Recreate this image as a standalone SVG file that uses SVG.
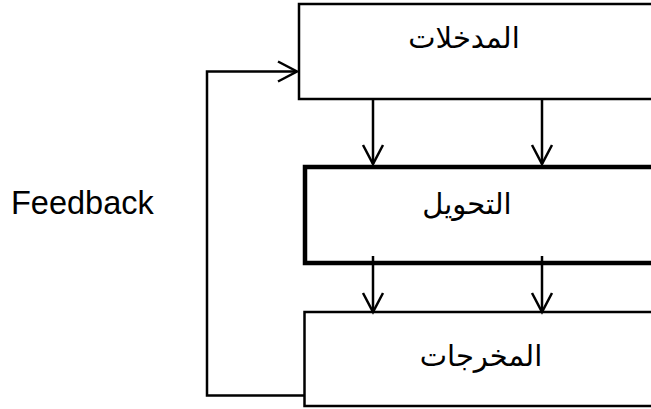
<svg xmlns="http://www.w3.org/2000/svg" width="651" height="409" viewBox="0 0 651 409">
<style>
.box{fill:#fff;stroke:#000;stroke-width:2.5}
.thick{fill:#fff;stroke:#000;stroke-width:4.5}
.conn{fill:none;stroke:#000;stroke-width:2.5}
.ar{font-family:"DejaVu Sans","Liberation Sans",sans-serif;font-size:29px;fill:#000;text-anchor:middle}
.en{font-family:"Liberation Sans",Arial,sans-serif;font-size:32.5px;fill:#000}
</style>
<defs>
<marker id="v" markerUnits="userSpaceOnUse" markerWidth="24" markerHeight="24" viewBox="-20 -12 24 24" refX="0" refY="0" orient="auto">
<path d="M-19,-10 L0,0 L-19,10" fill="none" stroke="#000" stroke-width="2.5"/>
</marker>
</defs>
<g id="inputs">
<rect class="box" x="299" y="4" width="400" height="95"/>
<text class="ar" x="464" y="48" direction="rtl">المدخلات</text>
</g>
<g id="transform">
<rect class="thick" x="305" y="167" width="400" height="96"/>
<text class="ar" x="467" y="214" direction="rtl">التحويل</text>
</g>
<g id="outputs">
<rect class="box" x="304.5" y="312" width="400" height="94"/>
<text class="ar" x="481" y="366" direction="rtl">المخرجات</text>
</g>
<g id="feedback-label">
<text class="en" x="11" y="214">Feedback</text>
</g>
<g id="connectors">
<line class="conn" x1="373" y1="99" x2="373" y2="164" marker-end="url(#v)"/>
<line class="conn" x1="542" y1="99" x2="542" y2="164" marker-end="url(#v)"/>
<line class="conn" x1="373" y1="256" x2="373" y2="312" marker-end="url(#v)"/>
<line class="conn" x1="542" y1="256" x2="542" y2="312" marker-end="url(#v)"/>
<path class="conn" d="M304,395.5 H207 V71.5 H297" marker-end="url(#v)"/>
</g>
</svg>
